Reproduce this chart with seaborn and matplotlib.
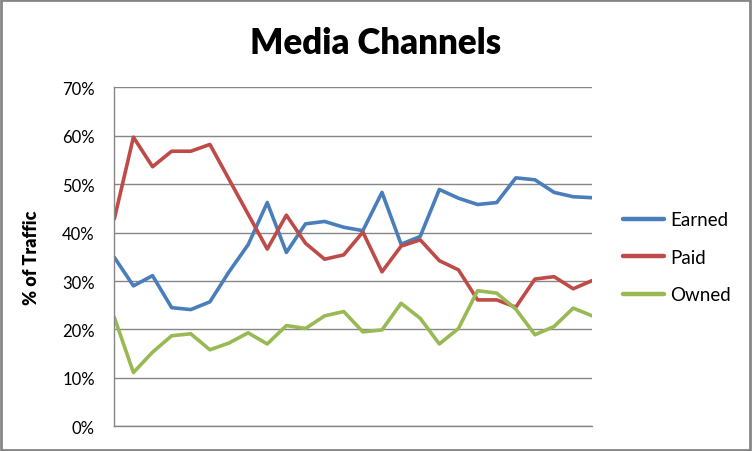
import matplotlib
matplotlib.use("Agg")
import matplotlib.pyplot as plt
import seaborn as sns
import pandas as pd
from matplotlib.ticker import PercentFormatter
from matplotlib.patches import Rectangle

periods = list(range(1, 27))
earned = [34.9, 29.0, 31.1, 24.5, 24.1, 25.7, 31.9, 37.5, 46.2, 35.9, 41.8, 42.3, 41.1,
          40.4, 48.3, 37.6, 39.2, 48.9, 47.1, 45.8, 46.2, 51.3, 50.9, 48.3, 47.4, 47.2]
paid = [42.8, 59.7, 53.6, 56.8, 56.8, 58.2, 51.0, 43.8, 36.6, 43.6, 37.8, 34.5, 35.4,
        40.1, 31.9, 37.2, 38.5, 34.2, 32.3, 26.1, 26.1, 24.6, 30.4, 30.9, 28.4, 30.1]
owned = [22.5, 11.1, 15.3, 18.7, 19.1, 15.8, 17.2, 19.3, 17.0, 20.8, 20.2, 22.8, 23.7,
         19.5, 19.9, 25.4, 22.3, 17.0, 20.2, 28.0, 27.5, 24.2, 18.9, 20.6, 24.4, 22.8]
series_names = ["Earned", "Paid", "Owned"]
colors = ["#4A7EBB", "#BE4B48", "#98B954"]
y_ticks = [0, 10, 20, 30, 40, 50, 60, 70]

df = pd.concat([
    pd.DataFrame({"period": periods, "value": vals, "channel": name})
    for name, vals in zip(series_names, [earned, paid, owned])
])

sns.set_style("white")
plt.rcParams["font.family"] = ["Lato", "DejaVu Sans"]
plt.rcParams["text.color"] = "black"
plt.rcParams["axes.labelcolor"] = "black"

fig = plt.figure(figsize=(7.52, 4.52), dpi=100)
ax = fig.add_axes([114.3 / 752, 1 - 427.3 / 452, 478 / 752, 339 / 452])

sns.lineplot(data=df, x="period", y="value", hue="channel", hue_order=series_names,
             palette=colors, linewidth=2.6, ax=ax, legend=True)
for ln in ax.lines:
    ln.set_solid_joinstyle("round")
    ln.set_solid_capstyle("round")

ax.set_xlim(periods[0], periods[-1])
ax.set_ylim(y_ticks[0], y_ticks[-1])
ax.set_yticks(y_ticks)
ax.yaxis.set_major_formatter(PercentFormatter(decimals=0))
ax.set_xticks([])
ax.grid(axis="y", color="#868686", linewidth=1.0)
ax.set_axisbelow(True)
for side in ["top", "right"]:
    ax.spines[side].set_visible(False)
for side in ["left", "bottom"]:
    ax.spines[side].set_color("#868686")
    ax.spines[side].set_linewidth(1.0)
ax.tick_params(axis="y", length=0, pad=14, labelsize=12, colors="black")
ax.set_xlabel("")
ax.set_ylabel("% of Traffic", fontsize=13, fontweight="heavy", color="black")
ax.yaxis.set_label_coords((40 - 114.3) / 478, 0.5)

fig.suptitle("Media Channels", fontsize=25, fontweight="heavy", color="black",
             x=0.5, y=1 - 43 / 452, va="center")

handles, labels = ax.get_legend_handles_labels()
ax.legend_.remove()
for h in handles:
    h.set_linewidth(3.2)
fig.legend(handles, labels, loc="center left", bbox_to_anchor=(623 / 752, 1 - 258.3 / 452),
           frameon=False, fontsize=13.5, handlelength=2.2, handletextpad=0.3,
           labelspacing=1.1, borderpad=0, borderaxespad=0, labelcolor="black")

fig.patches.append(Rectangle((0.001, 0.002), 0.997, 0.996, transform=fig.transFigure,
                             fill=False, edgecolor="#868686", linewidth=2.0))

fig.savefig("out.png", dpi=100)
